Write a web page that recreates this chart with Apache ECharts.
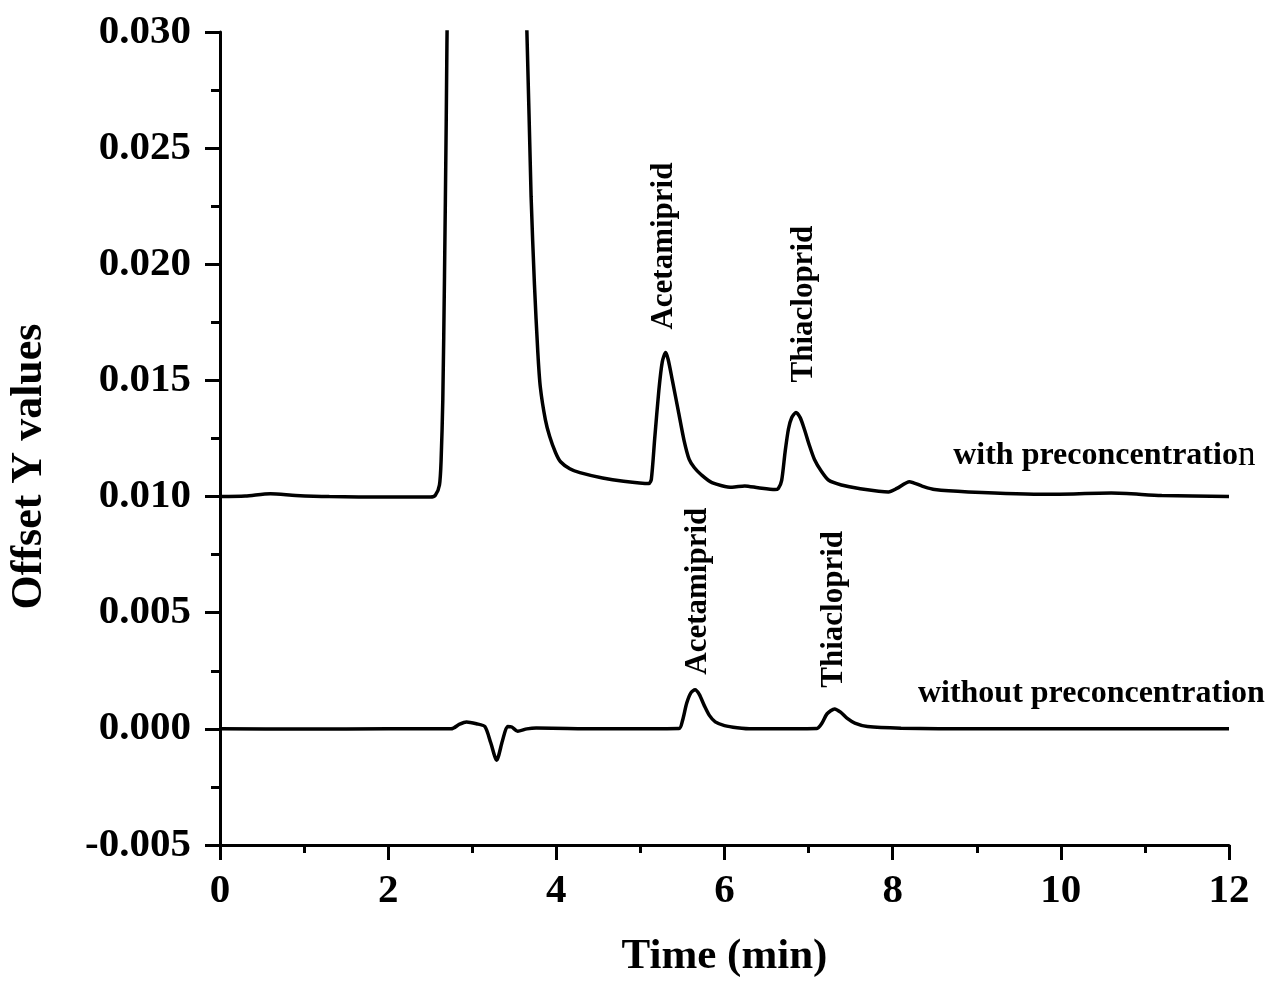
<!DOCTYPE html>
<html>
<head>
<meta charset="utf-8">
<title>Offset Y values vs Time</title>
<script src="https://cdn.jsdelivr.net/npm/echarts@6/dist/echarts.min.js"></script>
<style>
  html, body { margin: 0; padding: 0; background: #fff; }
  #chart { width: 1281px; height: 992px; }
</style>
</head>
<body>
<div id="chart"></div>
<script>
// time (min) / offset value pairs
const withTime = [0.00, 0.30, 0.60, 0.90, 1.30, 2.00, 2.50, 2.56, 2.61, 2.63, 2.65, 2.67, 2.69, 2.71, 2.80, 3.20,
  3.55, 3.65, 3.70, 3.74, 3.78, 3.81, 3.87, 3.92, 3.99, 4.05, 4.16, 4.28, 4.55, 4.80, 5.10, 5.13, 5.17, 5.22, 5.26,
  5.30, 5.33, 5.38, 5.45, 5.52, 5.58, 5.64, 5.72, 5.85, 6.09, 6.24, 6.40, 6.60, 6.64, 6.68, 6.72, 6.76, 6.80, 6.85,
  6.90, 6.95, 7.01, 7.07, 7.15, 7.24, 7.39, 7.60, 7.95, 8.05, 8.20, 8.35, 8.50, 8.90, 9.84, 10.60, 11.20, 12.00];
const withValue = [0.01000, 0.01002, 0.01012, 0.01005, 0.01000, 0.00998, 0.00998, 0.01005, 0.01050, 0.01160, 0.01420,
  0.01950, 0.02600, 0.03300, 0.05000, 0.07000, 0.04000, 0.03000, 0.02290, 0.01910, 0.01620, 0.01470, 0.01330,
  0.01260, 0.01190, 0.01150, 0.01120, 0.01103, 0.01080, 0.01066, 0.01056, 0.01075, 0.01250, 0.01460, 0.01580,
  0.01620, 0.01590, 0.01500, 0.01370, 0.01240, 0.01160, 0.01125, 0.01095, 0.01060, 0.01040, 0.01046, 0.01038,
  0.01030, 0.01035, 0.01070, 0.01190, 0.01290, 0.01340, 0.01362, 0.01340, 0.01290, 0.01220, 0.01160, 0.01110,
  0.01070, 0.01050, 0.01035, 0.01020, 0.01035, 0.01064, 0.01045, 0.01030, 0.01020, 0.01010, 0.01015, 0.01005,
  0.01000];

const withoutTime = [0.00, 1.00, 2.00, 2.75, 2.85, 2.93, 3.05, 3.15, 3.22, 3.29, 3.36, 3.42, 3.47, 3.54, 3.65, 3.76,
  4.50, 5.46, 5.50, 5.55, 5.60, 5.65, 5.70, 5.76, 5.82, 5.89, 6.00, 6.15, 6.33, 7.10, 7.16, 7.22, 7.31, 7.38, 7.46,
  7.55, 7.70, 8.10, 9.00, 12.00];
const withoutValue = [0.00000, -0.00001, 0.00000, 0.00000, 0.00020, 0.00030, 0.00022, 0.00010, -0.00060, -0.00135,
  -0.00050, 0.00010, 0.00008, -0.00010, 0.00000, 0.00004, 0.00000, 0.00002, 0.00035, 0.00110, 0.00155, 0.00168,
  0.00148, 0.00100, 0.00058, 0.00030, 0.00014, 0.00005, 0.00000, 0.00002, 0.00025, 0.00065, 0.00086, 0.00072,
  0.00045, 0.00025, 0.00010, 0.00003, 0.00000, 0.00000];

// peak names, rotated, anchored at the bottom of the text
const peakNames = ['Acetamiprid', 'Thiacloprid', 'Acetamiprid', 'Thiacloprid'];
const peakTime = [5.28, 6.94, 5.69, 7.30];
const peakValue = [0.01719, 0.01491, 0.00233, 0.00177];

// trace names
const traceNames = ['with preconcentration', 'without preconcentration'];
const traceTime = [8.72, 8.30];
const traceValue = [0.01177, 0.00151];

const xTicks = { min: 0, max: 12, interval: 2 };
const yTicks = { min: -0.005, max: 0.030, interval: 0.005 };

const FONT = "'Liberation Serif', 'Times New Roman', serif";

const zip = (a, b) => a.map((v, i) => [v, b[i]]);

const chart = echarts.init(document.getElementById('chart'));

const lineStyle = { color: '#000', width: 3.5 };
const axisLine = { show: true, onZero: false, lineStyle: { color: '#000', width: 3 } };
const textStyle = { fontFamily: FONT, fontWeight: 'bold', color: '#000', textBorderWidth: 0, opacity: 1 };

chart.setOption({
  animation: false,
  grid: { left: 216, right: 52, top: 32, bottom: 147, containLabel: false },
  xAxis: {
    type: 'value',
    min: xTicks.min, max: xTicks.max, interval: xTicks.interval,
    name: 'Time (min)',
    nameLocation: 'middle',
    nameGap: 90,
    nameTextStyle: { fontFamily: FONT, fontWeight: 'bold', fontSize: 43, color: '#000' },
    axisLine: axisLine,
    axisTick: { show: true, inside: false, length: 15, lineStyle: { color: '#000', width: 3 } },
    minorTick: { show: true, splitNumber: 2, length: 8, lineStyle: { color: '#000', width: 3 } },
    axisLabel: { fontFamily: FONT, fontWeight: 'bold', fontSize: 41, color: '#000', margin: 26 },
    splitLine: { show: false }
  },
  yAxis: {
    type: 'value',
    min: yTicks.min, max: yTicks.max, interval: yTicks.interval,
    name: 'Offset Y values',
    nameLocation: 'middle',
    nameGap: 168,
    // right padding pushes the rotated title a little down, as in the original
    nameTextStyle: { fontFamily: FONT, fontWeight: 'bold', fontSize: 44, color: '#000', padding: [0, 56, 0, 0] },
    axisLine: axisLine,
    axisTick: { show: true, inside: false, length: 15, lineStyle: { color: '#000', width: 3 } },
    minorTick: { show: true, splitNumber: 2, length: 9, lineStyle: { color: '#000', width: 3 } },
    axisLabel: {
      fontFamily: FONT, fontWeight: 'bold', fontSize: 41, color: '#000', margin: 29,
      formatter: v => v.toFixed(3)
    },
    splitLine: { show: false }
  },
  series: [
    {
      name: traceNames[0],
      type: 'line',
      data: zip(withTime, withValue),
      showSymbol: false,
      smooth: 0.25,
      lineStyle: lineStyle,
      clip: true
    },
    {
      name: traceNames[1],
      type: 'line',
      data: zip(withoutTime, withoutValue),
      showSymbol: false,
      smooth: 0.25,
      lineStyle: lineStyle,
      clip: true
    },
    {
      type: 'scatter',
      symbolSize: 0.1,
      itemStyle: { color: '#000', opacity: 1 },
      data: peakNames.map((n, i) => ({ name: n, value: [peakTime[i], peakValue[i]] })),
      label: Object.assign({
        show: true,
        position: 'inside',
        rotate: 90,
        align: 'left',
        verticalAlign: 'middle',
        formatter: p => p.name,
        fontSize: 31
      }, textStyle),
      silent: true
    },
    {
      type: 'scatter',
      symbolSize: 0.1,
      itemStyle: { color: '#000', opacity: 1 },
      data: traceNames.map((n, i) => ({ name: n, value: [traceTime[i], traceValue[i]] })),
      label: Object.assign({
        show: true,
        position: 'inside',
        align: 'left',
        verticalAlign: 'middle',
        // the original has the final "n" of the upper name in regular weight
        formatter: p => p.dataIndex === 0
          ? '{b|' + p.name.slice(0, -1) + '}{r|' + p.name.slice(-1) + '}'
          : '{b|' + p.name + '}',
        rich: {
          b: Object.assign({ fontSize: 32 }, textStyle),
          r: Object.assign({}, textStyle, { fontWeight: 'normal', fontSize: 35 })
        }
      }, textStyle),
      silent: true
    }
  ]
});
</script>
</body>
</html>
